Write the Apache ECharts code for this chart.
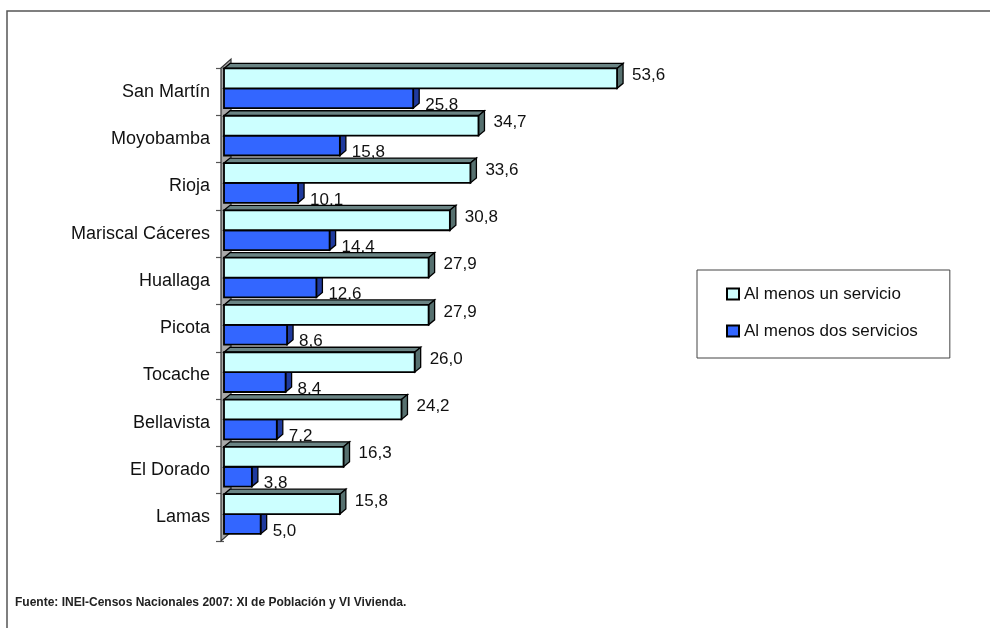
<!DOCTYPE html>
<html>
<head>
<meta charset="utf-8">
<script src="https://cdn.jsdelivr.net/npm/echarts@6/dist/echarts.min.js"></script>
<style>
html,body{margin:0;padding:0;background:#fff;}
#chart{width:990px;height:628px;}
</style>
</head>
<body>
<div id="chart"></div>
<script>
const categories = ['San Martín','Moyobamba','Rioja','Mariscal Cáceres','Huallaga','Picota','Tocache','Bellavista','El Dorado','Lamas'];
const unServicio = [53.6,34.7,33.6,30.8,27.9,27.9,26.0,24.2,16.3,15.8];
const dosServicios = [25.8,15.8,10.1,14.4,12.6,8.6,8.4,7.2,3.8,5.0];
const seriesNames = ['Al menos un servicio','Al menos dos servicios'];
const sourceText = 'Fuente: INEI-Censos Nacionales 2007: XI de Población y VI Vivienda.';

const FONT = '"Liberation Sans", Arial, sans-serif';
const DX = 6, DY = 5;

function fmt(v){ return v.toFixed(1).replace('.', ','); }

function barRenderer(which, front, topC, sideC, labelDx, labelDy){
  return function(params, api){
    const idx = api.value(0);
    const val = api.value(1);
    const p0 = api.coord([0, idx]);
    const p1 = api.coord([val, idx]);
    const band = api.size([0, 1])[1];
    const h = band * 0.42;
    const cy = p0[1] - band * 0.07;
    const y0 = which === 0 ? cy - h : cy;
    const x0 = p0[0], x1 = p1[0];
    return {
      type: 'group',
      children: [
        {type:'polygon', shape:{points:[[x0,y0],[x0+DX,y0-DY],[x1+DX,y0-DY],[x1,y0]]},
         style:{fill: topC, stroke:'#000', lineWidth:1.3}},
        {type:'polygon', shape:{points:[[x1,y0],[x1+DX,y0-DY],[x1+DX,y0+h-DY],[x1,y0+h]]},
         style:{fill: sideC, stroke:'#000', lineWidth:1.3}},
        {type:'rect', shape:{x:x0, y:y0, width:x1-x0, height:h},
         style:{fill: front, stroke:'#000', lineWidth:1.8}},
        {type:'text', x: x1 + DX + labelDx, y: y0 + h/2 + labelDy,
         style:{text: fmt(val), fill:'#111', font:'17px ' + FONT, textVerticalAlign:'middle', textAlign:'left'}}
      ]
    };
  };
}

const chart = echarts.init(document.getElementById('chart'));
const option = {
  animation: false,
  backgroundColor: '#fff',
  grid: {left: 224, right: 326, top: 68, bottom: 87},
  xAxis: {type:'value', min:0, max:60, show:false},
  yAxis: {
    type:'category', data: categories, inverse: true, offset: 3,
    axisLine:{show:false},
    axisTick:{show:true, length:8, lineStyle:{color:'#555', width:1.2}},
    axisLabel:{fontFamily: FONT, fontSize:18, color:'#111', margin:11}
  },
  legend: {
    data: seriesNames, orient:'vertical', left: 697, top: 270,
    padding:[14, 32, 17, 29], itemWidth:12, itemHeight:11, itemGap:17,
    borderColor:'#444', borderWidth:1, icon:'rect',
    textStyle:{fontFamily: FONT, fontSize:17, color:'#111', lineHeight:20}
  },
  graphic: [
    {type:'polyline', shape:{points:[[990,11],[7,11],[7,628]]}, style:{stroke:'#555', lineWidth:1.5, fill:null}},
    {type:'text', left: 15, top: 597, style:{text: sourceText, font:'bold 12px "Liberation Sans Narrow", ' + FONT, fill:'#222'}}
  ],
  series: [
    {
      name: 'wall', type:'custom', z:1, silent:true, legendHoverLink:false,
      data: [[0, 0]], encode:{x:1, y:0},
      renderItem: function(params, api){
        const c0 = api.coord([0, 0]);
        const band = api.size([0, 1])[1];
        const top = c0[1] - band/2;
        const bottom = top + band * categories.length;
        const x = c0[0] - 3;
        return {type:'polygon', shape:{points:[[x,top],[x+10,top-9],[x+10,bottom-9],[x,bottom]]},
          style:{fill:'#a8a8a8', stroke:'#333', lineWidth:1.2}};
      }
    },
    {
      name: seriesNames[0], type:'custom', z:4,
      itemStyle:{color:'#CCFFFF', borderColor:'#000', borderWidth:2},
      data: unServicio.map((v,i)=>[i, v]), encode:{x:1, y:0},
      renderItem: barRenderer(0, '#CCFFFF', '#6a8484', '#56706f', 9, -3)
    },
    {
      name: seriesNames[1], type:'custom', z:3,
      itemStyle:{color:'#3366FF', borderColor:'#000', borderWidth:2},
      data: dosServicios.map((v,i)=>[i, v]), encode:{x:1, y:0},
      renderItem: barRenderer(1, '#3366FF', '#2244aa', '#1f3a9e', 6, 7)
    }
  ]
};
chart.setOption(option);
</script>
</body>
</html>
